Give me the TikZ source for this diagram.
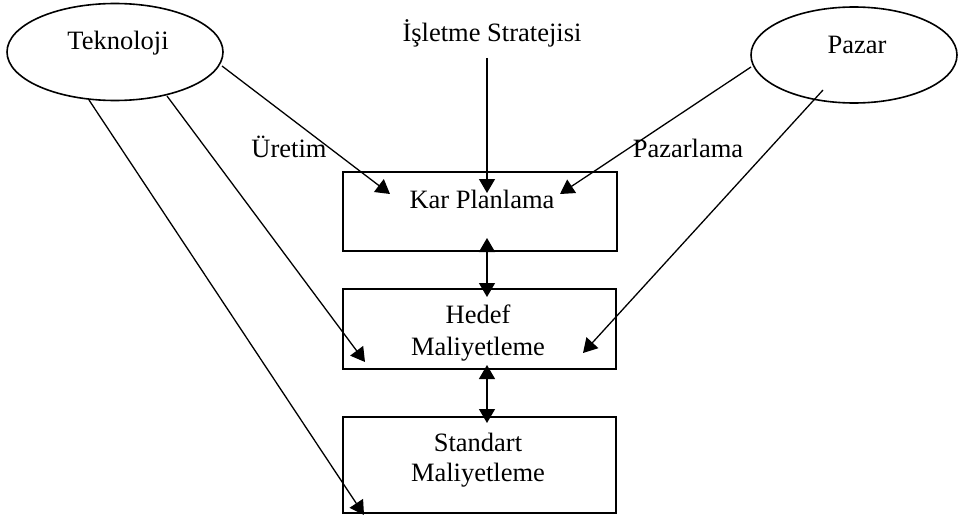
\documentclass[tikz,border=0pt]{standalone}
\usepackage{fontspec}
\setmainfont{Liberation Serif}
\usetikzlibrary{arrows.meta,shapes.geometric}
\begin{document}
\begin{tikzpicture}[x=1pt,y=-1pt,
  txt/.style={font=\fontsize{26.5}{31}\selectfont, inner sep=0pt, align=center},
  oval/.style={draw, line width=1.6pt, ellipse, inner sep=0pt},
  boxn/.style={draw, line width=1.6pt, rectangle, inner sep=0pt},
  conn/.style={line width=1.3pt, -{Triangle[length=14pt,width=16pt]}},
  dconn/.style={line width=1.3pt, {Triangle[length=14pt,width=16pt]}-{Triangle[length=14pt,width=16pt]}}]
\useasboundingbox (0,0) rectangle (958,519);
% ellipses
\node[oval, minimum width=216pt, minimum height=97pt] (tek) at (115,52) {};
\node[txt] (tekt) at (118,43) {Teknoloji};
\node[oval, minimum width=206pt, minimum height=96pt] (paz) at (854,55) {};
\node[txt] (pazt) at (857,45) {Pazar};
\node[txt] (isl) at (492,33) {İşletme Stratejisi};
% boxes
\node[boxn, minimum width=274pt, minimum height=79pt] (kar) at (480,211.5) {};
\node[txt] (kart) at (482,199) {Kar Planlama};
\node[boxn, minimum width=273pt, minimum height=80pt] (hed) at (479.5,329) {};
\node[txt, font=\fontsize{26.5}{32}\selectfont] (hedt) at (478,333) {Hedef\\Maliyetleme};
\node[boxn, minimum width=273pt, minimum height=96pt] (std) at (479.5,465) {};
\node[txt, font=\fontsize{26.5}{30}\selectfont] (stdt) at (478,460) {Standart\\Maliyetleme};
% labels
\node[txt] (ure) at (289,147) {Üretim};
\node[txt] (pzl) at (688,148) {Pazarlama};
% coordinates
\coordinate (t1) at (222,66);
\coordinate (t2) at (167,96);
\coordinate (t3) at (89,100);
\coordinate (p1) at (751,67);
\coordinate (p2) at (823,90);
\coordinate (i1) at (487,58);
\coordinate (karA) at (390,194);
\coordinate (karB) at (560,194);
\coordinate (karC) at (487,193);
\coordinate (karD) at (487,238);
\coordinate (hedA) at (365,362);
\coordinate (hedB) at (583,353);
\coordinate (hedC) at (487,297);
\coordinate (hedD) at (487,365);
\coordinate (stdA) at (364,515);
\coordinate (stdC) at (487,423);
% connectors
\draw[conn] (t1) -- (karA);
\draw[conn] (t2) -- (hedA);
\draw[conn] (t3) -- (stdA);
\draw[conn] (p1) -- (karB);
\draw[conn] (p2) -- (hedB);
\draw[conn] (i1) -- (karC);
\draw[dconn] (karD) -- (hedC);
\draw[dconn] (hedD) -- (stdC);
\end{tikzpicture}
\end{document}
